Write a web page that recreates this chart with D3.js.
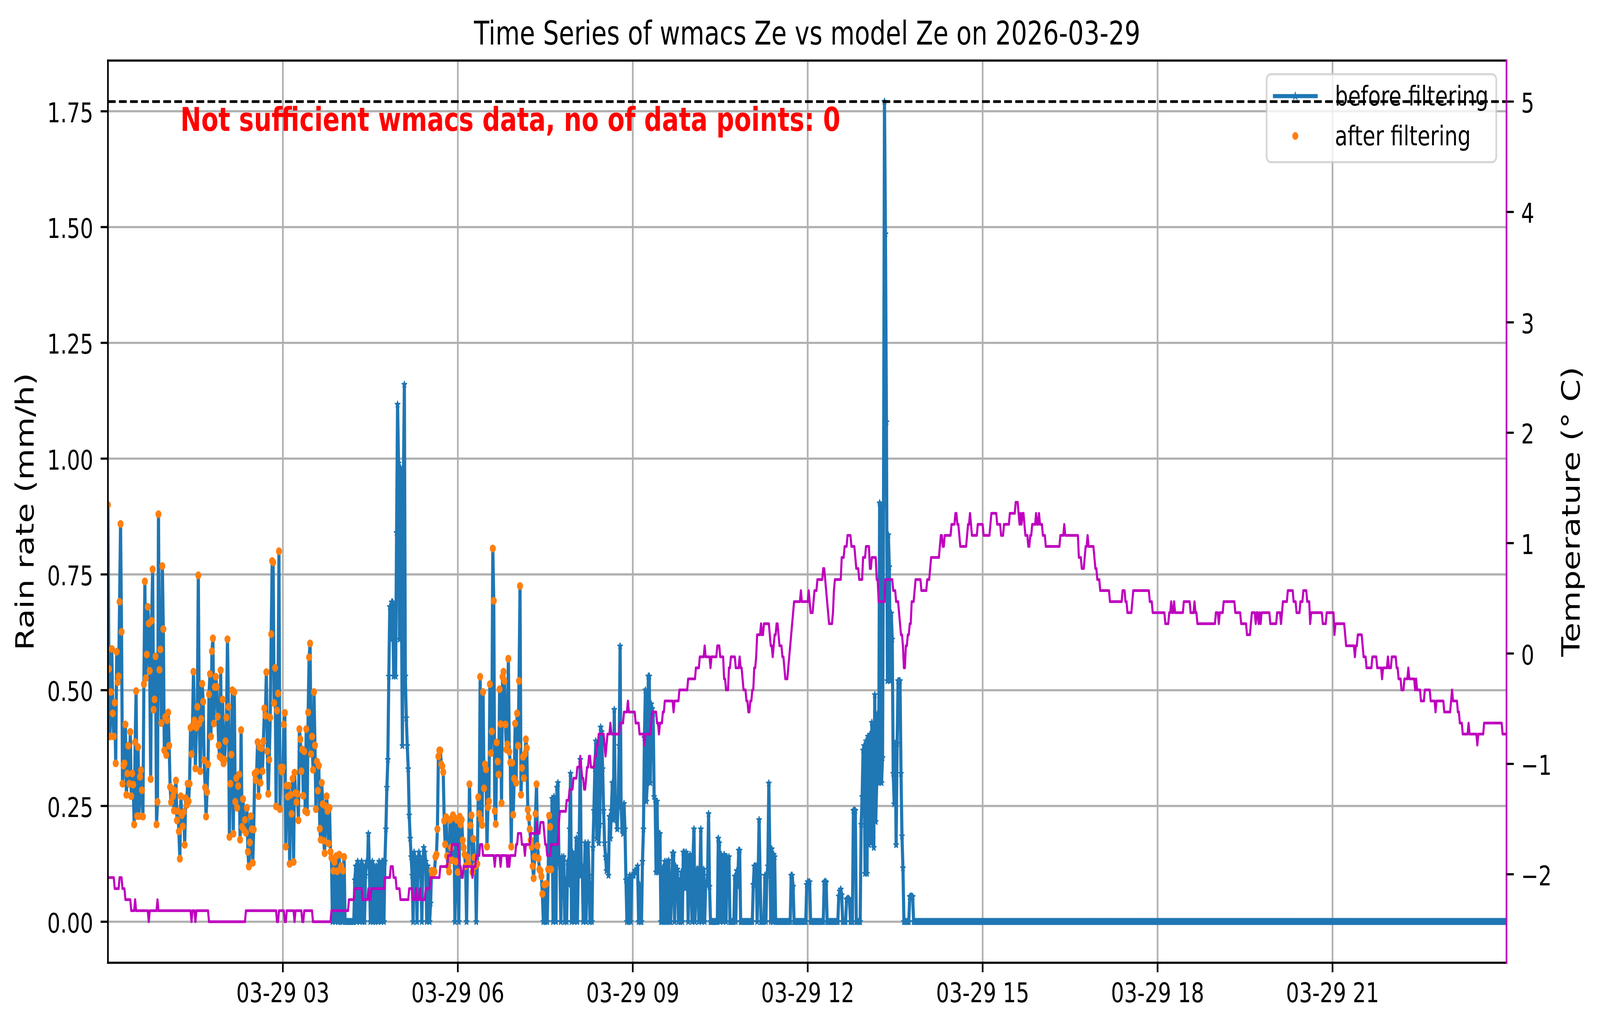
<!DOCTYPE html>
<html>
<head>
<meta charset="utf-8">
<script src="https://cdn.jsdelivr.net/npm/d3@7"></script>
<style>
html,body{margin:0;padding:0;background:#ffffff;overflow:hidden;width:100%;height:100%;}
svg{display:block;font-family:"DejaVu Sans",sans-serif;width:100vw;height:100vh;}
</style>
</head>
<body>
<svg id="chart" viewBox="0 0 5322 2631" preserveAspectRatio="none"></svg>
<script>
// ---------------- data ----------------
const chartTitle = "Time Series of wmacs Ze vs model Ze on 2026-03-29";
const warningText = "Not sufficient wmacs data, no of data points: 0";
const leftAxisLabel = "Rain rate (mm/h)";
const rightAxisLabel = "Temperature (\u00b0 C)";
const seriesNames = ["before filtering", "after filtering"];
const dayStartUTC = Date.UTC(2026, 2, 29, 0, 0);
const sampleMinutes = 1;

// rain rate (mm/h), one value per minute, 6 rows of 10 per hour
const rainRate = [
// 00h
0.90,0.546,0.40,0.496,0.589,0.45,0.40,0.473,0.342,0.583,
0.517,0.53,0.691,0.859,0.626,0.298,0.337,0.342,0.426,0.274,
0.32,0.38,0.298,0.41,0.271,0.32,0.296,0.21,0.388,0.498,
0.228,0.377,0.228,0.313,0.327,0.284,0.227,0.513,0.735,0.526,
0.577,0.68,0.644,0.542,0.308,0.65,0.761,0.458,0.48,0.573,
0.21,0.259,0.88,0.544,0.588,0.429,0.768,0.632,0.37,0.442,
// 01h
0.36,0.435,0.452,0.38,0.291,0.258,0.287,0.271,0.24,0.283,
0.305,0.219,0.239,0.195,0.136,0.271,0.23,0.206,0.237,0.166,
0.267,0.252,0.298,0.26,0.298,0.419,0.362,0.423,0.54,0.435,
0.331,0.419,0.464,0.748,0.428,0.325,0.438,0.514,0.475,0.349,
0.29,0.227,0.28,0.34,0.491,0.535,0.40,0.584,0.612,0.428,
0.507,0.529,0.507,0.443,0.381,0.357,0.543,0.353,0.48,0.342,
// 02h
0.35,0.39,0.441,0.61,0.464,0.183,0.298,0.361,0.50,0.19,
0.496,0.259,0.31,0.246,0.293,0.318,0.177,0.414,0.205,0.265,
0.198,0.22,0.192,0.246,0.151,0.119,0.171,0.228,0.2,0.127,
0.199,0.32,0.306,0.324,0.388,0.271,0.377,0.30,0.375,0.325,
0.39,0.461,0.445,0.539,0.368,0.276,0.35,0.441,0.621,0.779,
0.776,0.472,0.548,0.249,0.456,0.493,0.80,0.243,0.333,0.324,
// 03h
0.333,0.426,0.451,0.162,0.294,0.27,0.294,0.125,0.274,0.233,
0.309,0.129,0.322,0.278,0.258,0.276,0.219,0.416,0.394,0.325,
0.372,0.272,0.368,0.239,0.416,0.236,0.452,0.571,0.601,0.362,
0.40,0.328,0.496,0.381,0.243,0.346,0.283,0.337,0.201,0.177,
0.30,0.254,0.175,0.148,0.25,0.271,0.239,0.169,0.246,0.151,
0.138,0,0.11,0.129,0,0.142,0.109,0,0.145,0,
// 04h
0.12,0,0.11,0.14,0,0,0,0,0,0,
0,0,0,0,0.09,0.12,0,0.13,0.11,0,
0.12,0.13,0,0.12,0,0.10,0.13,0.12,0.19,0.12,
0,0.11,0.13,0,0.12,0,0.12,0.11,0,0.13,
0.12,0,0.13,0.13,0,0.13,0.20,0.29,0.35,0.53,
0.68,0.61,0.69,0.69,0.53,0.68,0.53,0.84,1.117,0.99,
// 05h
0.61,0.98,0.68,0.38,0.95,1.16,0.53,0.44,0.38,0.33,
0.23,0.18,0.14,0.10,0,0.15,0.14,0.12,0,0.13,
0.15,0.14,0.10,0,0.12,0.16,0.15,0.13,0,0.12,
0.10,0,0.04,0.11,0.10,0.11,0.108,0.14,0.145,0.2,
0.357,0.37,0.37,0.34,0.336,0.323,0.218,0.167,0.226,0.142,
0.12,0.108,0.22,0.16,0.133,0.23,0.226,0,0.13,0.22,
// 06h
0.107,0,0.227,0.21,0.22,0.176,0.16,0.145,0.12,0,
0.139,0.125,0.297,0.208,0.23,0.107,0.179,0.139,0.12,0,
0.125,0.269,0.233,0.529,0.22,0.209,0.496,0.288,0.34,0.329,
0.162,0.247,0.26,0.513,0.364,0.411,0.806,0.693,0.239,0.211,
0.387,0.346,0.318,0.502,0.427,0.256,0.529,0.54,0.52,0.426,
0.372,0.383,0.568,0.367,0.344,0.162,0.343,0.231,0.309,0.428,
// 07h
0.30,0.45,0.38,0.52,0.725,0.274,0.332,0.356,0.31,0.362,
0.394,0.375,0.242,0.225,0.2,0.176,0.162,0.12,0.094,0.14,
0.233,0.297,0.164,0.137,0.113,0.11,0.098,0.06,0,0.08,
0,0.082,0,0.113,0.229,0.205,0.113,0.266,0,0.27,
0.08,0,0.29,0.30,0.14,0.12,0,0.14,0.12,0.14,
0,0.09,0,0.13,0.08,0.2,0.32,0,0.15,0.1,
// 08h
0,0.12,0.18,0,0.12,0.19,0.35,0.1,0.12,0,
0.09,0.17,0,0.13,0.17,0.1,0,0.08,0,0.16,
0.24,0.33,0.39,0.18,0.38,0.17,0.21,0.42,0.41,0.33,
0.24,0.17,0.14,0.11,0.14,0.1,0.227,0.18,0.24,0.3,
0.22,0.458,0.24,0.23,0.2,0.26,0.38,0.595,0.25,0.2,
0.19,0.255,0.2,0.09,0,0.09,0,0.1,0,0.1,
// 09h
0.1,0.1,0.11,0.11,0.11,0.12,0,0.08,0,0,
0.13,0.2,0.397,0.5,0.26,0.3,0.53,0.53,0.3,0.47,
0.46,0.45,0.27,0.264,0.107,0.26,0.107,0.19,0.19,0,
0,0.117,0,0.13,0,0.13,0,0.132,0,0,
0.072,0.148,0.148,0,0.12,0.072,0.113,0,0.088,0,
0.107,0,0.15,0.15,0.072,0.15,0.145,0,0.14,0.145,
// 10h
0.072,0,0.14,0.2,0,0.07,0.113,0.113,0,0.08,
0.2,0,0.07,0.113,0,0.08,0.08,0.1,0.233,0.076,
0,0,0,0,0,0,0,0,0.18,0.17,
0,0.145,0.14,0,0.145,0.14,0,0.14,0.076,0.14,
0,0,0,0,0,0.098,0,0.11,0.076,0.154,
0.154,0,0,0,0,0,0,0,0,0,
// 11h
0,0,0,0,0.08,0.12,0.12,0.12,0,0.1,
0.22,0.1,0,0,0,0,0.1,0,0.1,0.12,
0.299,0.157,0,0.157,0,0.145,0.14,0,0,0,
0,0,0,0,0,0,0,0,0,0,
0,0,0,0.1,0.1,0.076,0,0,0,0,
0,0,0,0,0,0,0,0,0,0.08,
// 12h
0.086,0.085,0.086,0,0,0,0,0,0,0,
0,0,0,0,0,0,0,0.085,0.087,0.085,
0,0,0,0,0,0,0,0,0,0,
0,0,0.055,0.066,0.07,0.058,0,0,0,0,
0.048,0.05,0.05,0.048,0,0,0,0.24,0.241,0.24,
0,0,0,0,0,0.21,0.27,0.37,0.38,0.104,
// 13h
0.39,0.104,0.40,0.166,0.404,0.17,0.43,0.18,0.16,0.49,
0.216,0.30,0.45,0.30,0.904,0.90,0.30,0.354,0.90,1.771,
1.485,1.079,0.52,0.835,0.766,0.52,0.666,0.61,0.32,0.254,
0.385,0.166,0.385,0.52,0.52,0.52,0.32,0.185,0.116,0,
0,0,0,0,0,0.054,0.055,0.055,0.054,0,
0,0,0,0,0,0,0,0,0,0,
// 14h
0,0,0,0,0,0,0,0,0,0, 0,0,0,0,0,0,0,0,0,0, 0,0,0,0,0,0,0,0,0,0,
0,0,0,0,0,0,0,0,0,0, 0,0,0,0,0,0,0,0,0,0, 0,0,0,0,0,0,0,0,0,0,
// 15h
0,0,0,0,0,0,0,0,0,0, 0,0,0,0,0,0,0,0,0,0, 0,0,0,0,0,0,0,0,0,0,
0,0,0,0,0,0,0,0,0,0, 0,0,0,0,0,0,0,0,0,0, 0,0,0,0,0,0,0,0,0,0,
// 16h
0,0,0,0,0,0,0,0,0,0, 0,0,0,0,0,0,0,0,0,0, 0,0,0,0,0,0,0,0,0,0,
0,0,0,0,0,0,0,0,0,0, 0,0,0,0,0,0,0,0,0,0, 0,0,0,0,0,0,0,0,0,0,
// 17h
0,0,0,0,0,0,0,0,0,0, 0,0,0,0,0,0,0,0,0,0, 0,0,0,0,0,0,0,0,0,0,
0,0,0,0,0,0,0,0,0,0, 0,0,0,0,0,0,0,0,0,0, 0,0,0,0,0,0,0,0,0,0,
// 18h
0,0,0,0,0,0,0,0,0,0, 0,0,0,0,0,0,0,0,0,0, 0,0,0,0,0,0,0,0,0,0,
0,0,0,0,0,0,0,0,0,0, 0,0,0,0,0,0,0,0,0,0, 0,0,0,0,0,0,0,0,0,0,
// 19h
0,0,0,0,0,0,0,0,0,0, 0,0,0,0,0,0,0,0,0,0, 0,0,0,0,0,0,0,0,0,0,
0,0,0,0,0,0,0,0,0,0, 0,0,0,0,0,0,0,0,0,0, 0,0,0,0,0,0,0,0,0,0,
// 20h
0,0,0,0,0,0,0,0,0,0, 0,0,0,0,0,0,0,0,0,0, 0,0,0,0,0,0,0,0,0,0,
0,0,0,0,0,0,0,0,0,0, 0,0,0,0,0,0,0,0,0,0, 0,0,0,0,0,0,0,0,0,0,
// 21h
0,0,0,0,0,0,0,0,0,0, 0,0,0,0,0,0,0,0,0,0, 0,0,0,0,0,0,0,0,0,0,
0,0,0,0,0,0,0,0,0,0, 0,0,0,0,0,0,0,0,0,0, 0,0,0,0,0,0,0,0,0,0,
// 22h
0,0,0,0,0,0,0,0,0,0, 0,0,0,0,0,0,0,0,0,0, 0,0,0,0,0,0,0,0,0,0,
0,0,0,0,0,0,0,0,0,0, 0,0,0,0,0,0,0,0,0,0, 0,0,0,0,0,0,0,0,0,0,
// 23h
0,0,0,0,0,0,0,0,0,0, 0,0,0,0,0,0,0,0,0,0, 0,0,0,0,0,0,0,0,0,0,
0,0,0,0,0,0,0,0,0,0, 0,0,0,0,0,0,0,0,0,0, 0,0,0,0,0,0,0,0,0,0
];

// minute windows (inclusive) in which non-zero samples survive the filter
const filterWindows = [[0, 243], [333, 456]];

// temperature (deg C): [minute at which level starts, level]
const tempRuns = [
[0,-2.03],[7,-2.13],[12,-2.03],[15,-2.13],[18,-2.23],[24,-2.33],[28,-2.23],[29,-2.33],[42,-2.43],[43,-2.33],
[51,-2.23],[52,-2.33],[86,-2.43],[87,-2.33],[90,-2.43],[91,-2.33],[104,-2.43],[142,-2.33],[174,-2.43],[176,-2.33],
[182,-2.43],[184,-2.33],[192,-2.43],[193,-2.33],[200,-2.43],[202,-2.33],[211,-2.43],[230,-2.33],[248,-2.23],[254,-2.13],
[262,-2.23],[268,-2.13],[269,-2.23],[271,-2.13],[285,-2.03],[291,-1.93],[294,-2.03],[297,-2.13],[301,-2.23],[310,-2.13],
[314,-2.23],[317,-2.13],[318,-2.23],[321,-2.13],[322,-2.23],[327,-2.13],[332,-2.03],[342,-1.93],[350,-1.83],[354,-1.73],
[361,-1.83],[362,-1.93],[364,-2.03],[366,-1.93],[375,-2.03],[376,-1.93],[379,-1.83],[383,-1.73],[386,-1.83],[398,-1.93],
[399,-1.83],[404,-1.93],[405,-1.83],[411,-1.93],[412,-1.83],[413,-1.93],[414,-1.83],[420,-1.73],[422,-1.63],[426,-1.73],
[429,-1.83],[430,-1.73],[435,-1.63],[441,-1.53],[442,-1.63],[445,-1.53],[449,-1.63],[450,-1.73],[452,-1.83],[456,-1.73],
[464,-1.53],[465,-1.43],[472,-1.33],[475,-1.23],[479,-1.13],[483,-1.03],[486,-0.93],[487,-1.03],[488,-1.13],[490,-1.23],
[492,-1.13],[493,-1.03],[495,-0.93],[497,-1.03],[501,-0.93],[503,-0.83],[505,-0.73],[511,-0.83],[512,-0.93],[513,-0.83],
[514,-0.73],[517,-0.63],[518,-0.73],[527,-0.63],[531,-0.53],[535,-0.43],[536,-0.53],[543,-0.63],[547,-0.73],[552,-0.83],
[553,-0.73],[559,-0.63],[560,-0.53],[565,-0.63],[567,-0.73],[568,-0.63],[571,-0.53],[573,-0.43],[582,-0.53],[583,-0.43],
[588,-0.33],[597,-0.23],[605,-0.13],[609,-0.03],[614,0.07],[615,-0.03],[620,-0.13],[621,-0.03],[627,0.07],[630,-0.03],
[634,-0.23],[636,-0.33],[639,-0.13],[641,-0.03],[646,-0.13],[650,-0.03],[651,-0.13],[653,-0.23],[654,-0.33],[657,-0.43],
[659,-0.53],[661,-0.43],[663,-0.33],[665,-0.13],[667,-0.03],[668,0.17],[672,0.27],[673,0.17],[675,0.27],[681,0.17],
[682,0.07],[684,-0.03],[685,0.07],[686,0.17],[688,0.27],[690,0.17],[691,0.07],[694,-0.03],[696,-0.13],[697,-0.23],
[700,-0.13],[701,-0.03],[702,0.07],[703,0.17],[704,0.27],[705,0.37],[706,0.47],[713,0.57],[714,0.47],[721,0.57],
[722,0.47],[723,0.37],[726,0.47],[727,0.57],[730,0.67],[736,0.77],[738,0.67],[739,0.57],[740,0.47],[741,0.37],
[742,0.27],[746,0.37],[747,0.57],[748,0.67],[755,0.87],[758,0.97],[761,1.07],[765,0.97],[769,0.87],[770,0.77],
[773,0.67],[777,0.87],[780,0.97],[784,0.77],[786,0.87],[791,0.67],[793,0.47],[800,0.67],[808,0.57],[811,0.47],
[814,0.37],[815,0.27],[816,0.17],[818,0.07],[819,-0.13],[821,0.07],[823,0.17],[825,0.27],[827,0.47],[830,0.57],
[831,0.67],[837,0.57],[843,0.67],[846,0.77],[847,0.87],[856,0.97],[857,1.07],[859,0.97],[861,1.07],[868,1.17],
[872,1.27],[874,1.17],[876,1.07],[877,0.97],[884,1.07],[885,1.17],[887,1.27],[888,1.17],[889,1.07],[895,1.17],
[901,1.07],[908,1.17],[909,1.27],[915,1.17],[919,1.07],[922,1.17],[928,1.27],[934,1.37],[937,1.27],[938,1.17],
[939,1.27],[940,1.17],[941,1.27],[943,1.17],[944,1.07],[947,0.97],[949,1.07],[951,1.17],[955,1.27],[956,1.17],
[958,1.27],[959,1.17],[962,1.07],[965,0.97],[980,1.07],[984,1.17],[985,1.07],[999,0.87],[1002,0.77],[1005,0.87],
[1006,0.97],[1008,1.07],[1009,0.97],[1015,0.87],[1016,0.77],[1018,0.67],[1021,0.57],[1031,0.47],[1044,0.57],[1047,0.47],
[1049,0.37],[1054,0.47],[1055,0.57],[1072,0.47],[1075,0.37],[1088,0.27],[1092,0.37],[1094,0.47],[1095,0.37],[1097,0.47],
[1098,0.37],[1107,0.47],[1114,0.37],[1118,0.47],[1119,0.37],[1121,0.27],[1140,0.37],[1143,0.27],[1144,0.37],[1148,0.47],
[1160,0.37],[1166,0.27],[1172,0.17],[1176,0.27],[1177,0.37],[1181,0.27],[1182,0.37],[1184,0.27],[1185,0.37],[1186,0.27],
[1187,0.37],[1196,0.27],[1203,0.37],[1207,0.27],[1208,0.37],[1209,0.47],[1214,0.57],[1220,0.47],[1223,0.37],[1227,0.47],
[1230,0.57],[1234,0.47],[1237,0.27],[1238,0.37],[1250,0.27],[1254,0.37],[1262,0.17],[1263,0.27],[1273,0.17],[1274,0.07],
[1283,-0.03],[1284,0.07],[1286,0.17],[1291,0.07],[1292,-0.03],[1295,-0.13],[1301,-0.03],[1306,-0.13],[1311,-0.23],[1312,-0.13],
[1317,-0.03],[1318,-0.13],[1321,-0.03],[1326,-0.13],[1328,-0.23],[1331,-0.33],[1334,-0.23],[1338,-0.13],[1339,-0.23],[1345,-0.33],
[1346,-0.23],[1347,-0.33],[1351,-0.43],[1355,-0.33],[1361,-0.43],[1366,-0.53],[1367,-0.43],[1375,-0.53],[1382,-0.43],[1383,-0.33],
[1384,-0.43],[1389,-0.53],[1391,-0.63],[1394,-0.73],[1400,-0.63],[1401,-0.73],[1409,-0.83],[1410,-0.73],[1416,-0.63],[1435,-0.73]
];
const tempReferenceLine = 5;

const leftTicks = [0, 0.25, 0.5, 0.75, 1.0, 1.25, 1.5, 1.75];
const rightTicks = [-2, -1, 0, 1, 2, 3, 4, 5];
const xTickHours = [3, 6, 9, 12, 15, 18, 21];
const xTickLabels = ["03-29 03", "03-29 06", "03-29 09", "03-29 12", "03-29 15", "03-29 18", "03-29 21"];

// ---------------- layout / style ----------------
const P = {left: 359, right: 5011, top: 155, bottom: 2464};
const PT = 500 / 72;               // px per point
const C = {blue: "#1f77b4", orange: "#ff7f0e", mag: "#bf00bf", grid: "#b0b0b0"};
const FS = {tick: 69, label: 83, title: 83, legend: 69};

const svg = d3.select("#chart");
svg.append("rect").attr("width", 5322).attr("height", 2631).attr("fill", "#fff");

const minuteToDate = m => new Date(dayStartUTC + m * 60000);
const rainData = rainRate.map((v, i) => ({t: minuteToDate(i * sampleMinutes), m: i * sampleMinutes, v}));
const inWindow = m => filterWindows.some(w => m >= w[0] && m <= w[1]);
const filtData = rainData.filter(d => d.v > 0 && inWindow(d.m));

const x = d3.scaleUtc()
  .domain([rainData[0].t, rainData[rainData.length - 1].t])
  .range([P.left, P.right]);

const rMin = Math.min(0, d3.min(rainRate)), rMax = d3.max(rainRate);
const rPad = (rMax - rMin) * 0.05;
const yL = d3.scaleLinear().domain([rMin - rPad, rMax + rPad]).range([P.bottom, P.top]);

const tVals = tempRuns.map(d => d[1]).concat([tempReferenceLine]);
const tMin = d3.min(tVals), tMax = d3.max(tVals);
const tPad = (tMax - tMin) * 0.05;
const yR = d3.scaleLinear().domain([tMin - tPad, tMax + tPad]).range([P.bottom, P.top]);

// clip
svg.append("defs").append("clipPath").attr("id", "plotclip")
  .append("rect").attr("x", P.left).attr("y", P.top)
  .attr("width", P.right - P.left).attr("height", P.bottom - P.top);

// grid
const grid = svg.append("g").attr("stroke", C.grid).attr("stroke-width", 0.8 * PT);
xTickHours.forEach(h => {
  const xx = x(minuteToDate(h * 60));
  grid.append("line").attr("x1", xx).attr("x2", xx).attr("y1", P.top).attr("y2", P.bottom);
});
leftTicks.forEach(v => {
  grid.append("line").attr("x1", P.left).attr("x2", P.right).attr("y1", yL(v)).attr("y2", yL(v));
});

// rain (before filtering)
const plotG = svg.append("g").attr("clip-path", "url(#plotclip)");
const rainLine = d3.line().x(d => x(d.t)).y(d => yL(d.v));
plotG.append("path").datum(rainData)
  .attr("d", rainLine).attr("fill", "none")
  .attr("stroke", C.blue).attr("stroke-width", 1.5 * PT)
  .attr("stroke-linejoin", "round").attr("stroke-linecap", "square");

const starR = 8.5;
const starPath = d3.symbol().type(d3.symbolStar).size(starR * starR / 0.8908130915292852)();
plotG.append("g").selectAll("path").data(rainData).join("path")
  .attr("d", starPath)
  .attr("transform", d => `translate(${x(d.t)},${yL(d.v)})`)
  .attr("fill", C.blue).attr("stroke", C.blue).attr("stroke-width", 3).attr("stroke-linejoin", "round");

// rain (after filtering)
plotG.append("g").selectAll("circle").data(filtData).join("circle")
  .attr("cx", d => x(d.t)).attr("cy", d => yL(d.v)).attr("r", 10)
  .attr("fill", C.orange);

// warning text
svg.append("text").attr("x", 600).attr("y", 335)
  .attr("font-size", FS.label).attr("font-weight", "bold").attr("fill", "#ff0000")
  .text(warningText);

// legend
const lg = svg.append("g");
lg.append("rect").attr("x", 4213).attr("y", 190).attr("width", 764).attr("height", 225)
  .attr("rx", 14).attr("ry", 14)
  .attr("fill", "#ffffff").attr("fill-opacity", 0.8)
  .attr("stroke", "#cccccc").attr("stroke-opacity", 0.8).attr("stroke-width", 0.8 * PT);
lg.append("line").attr("x1", 4234).attr("x2", 4383).attr("y1", 246).attr("y2", 246)
  .attr("stroke", C.blue).attr("stroke-width", 1.5 * PT).attr("stroke-linecap", "butt");
lg.append("path").attr("d", starPath).attr("transform", "translate(4308.5,246)")
  .attr("fill", C.blue).attr("stroke", C.blue).attr("stroke-width", 3);
lg.append("text").attr("x", 4440).attr("y", 270).attr("font-size", FS.legend).text(seriesNames[0]);
lg.append("circle").attr("cx", 4308.5).attr("cy", 348).attr("r", 10).attr("fill", C.orange);
lg.append("text").attr("x", 4440).attr("y", 372).attr("font-size", FS.legend).text(seriesNames[1]);

// temperature (twin axis)
const tempPts = [];
tempRuns.forEach((r, i) => {
  const end = i < tempRuns.length - 1 ? tempRuns[i + 1][0] - sampleMinutes : rainData[rainData.length - 1].m;
  tempPts.push([r[0], r[1]]);
  if (end > r[0]) tempPts.push([end, r[1]]);
});
const tempLine = d3.line().x(d => x(minuteToDate(d[0]))).y(d => yR(d[1]));
const plot2 = svg.append("g").attr("clip-path", "url(#plotclip)");
plot2.append("path").datum(tempPts).attr("d", tempLine)
  .attr("fill", "none").attr("stroke", C.mag).attr("stroke-width", 1.0 * PT)
  .attr("stroke-linejoin", "round").attr("stroke-linecap", "square");

plot2.append("line").attr("x1", P.left).attr("x2", P.right)
  .attr("y1", yR(tempReferenceLine)).attr("y2", yR(tempReferenceLine))
  .attr("stroke", "#000").attr("stroke-width", 1.0 * PT)
  .attr("stroke-dasharray", `${3.7 * PT},${1.6 * PT}`);

// spines
const sw = 0.8 * PT;
const sp = svg.append("g").attr("stroke-width", sw).attr("stroke-linecap", "square");
sp.append("line").attr("x1", P.left).attr("x2", P.left).attr("y1", P.top).attr("y2", P.bottom).attr("stroke", "#000");
sp.append("line").attr("x1", P.left).attr("x2", P.right).attr("y1", P.top).attr("y2", P.top).attr("stroke", "#000");
sp.append("line").attr("x1", P.left).attr("x2", P.right).attr("y1", P.bottom).attr("y2", P.bottom).attr("stroke", "#000");
sp.append("line").attr("x1", P.right).attr("x2", P.right).attr("y1", P.top).attr("y2", P.bottom).attr("stroke", C.mag);

// ticks & tick labels
const tl = 3.5 * PT, pad = 3.5 * PT;
const tk = svg.append("g").attr("stroke", "#000").attr("stroke-width", sw);
const tx = svg.append("g").attr("font-size", FS.tick).attr("fill", "#000");
xTickHours.forEach((h, i) => {
  const xx = x(minuteToDate(h * 60));
  tk.append("line").attr("x1", xx).attr("x2", xx).attr("y1", P.bottom).attr("y2", P.bottom + tl);
  tx.append("text").attr("x", xx).attr("y", 2565).attr("text-anchor", "middle").text(xTickLabels[i]);
});
const fmtL = d3.format(".2f");
leftTicks.forEach(v => {
  const yy = yL(v);
  tk.append("line").attr("x1", P.left - tl).attr("x2", P.left).attr("y1", yy).attr("y2", yy);
  tx.append("text").attr("x", P.left - tl - pad).attr("y", yy + 28).attr("text-anchor", "end").text(fmtL(v));
});
rightTicks.forEach(v => {
  const yy = yR(v);
  tk.append("line").attr("x1", P.right).attr("x2", P.right + tl).attr("y1", yy).attr("y2", yy);
  tx.append("text").attr("x", P.right + tl + pad).attr("y", yy + 28).attr("text-anchor", "start")
    .text(v < 0 ? "\u2212" + Math.abs(v) : String(v));
});

// axis labels & title
const midY = (P.top + P.bottom) / 2;
svg.append("text").attr("transform", `translate(112,${midY}) rotate(-90)`)
  .attr("text-anchor", "middle").attr("font-size", FS.label).text(leftAxisLabel);
svg.append("text").attr("transform", `translate(5254,${midY}) rotate(-90)`)
  .attr("text-anchor", "middle").attr("font-size", FS.label).text(rightAxisLabel);
svg.append("text").attr("x", (P.left + P.right) / 2).attr("y", 114)
  .attr("text-anchor", "middle").attr("font-size", FS.title).text(chartTitle);
</script>
</body>
</html>
